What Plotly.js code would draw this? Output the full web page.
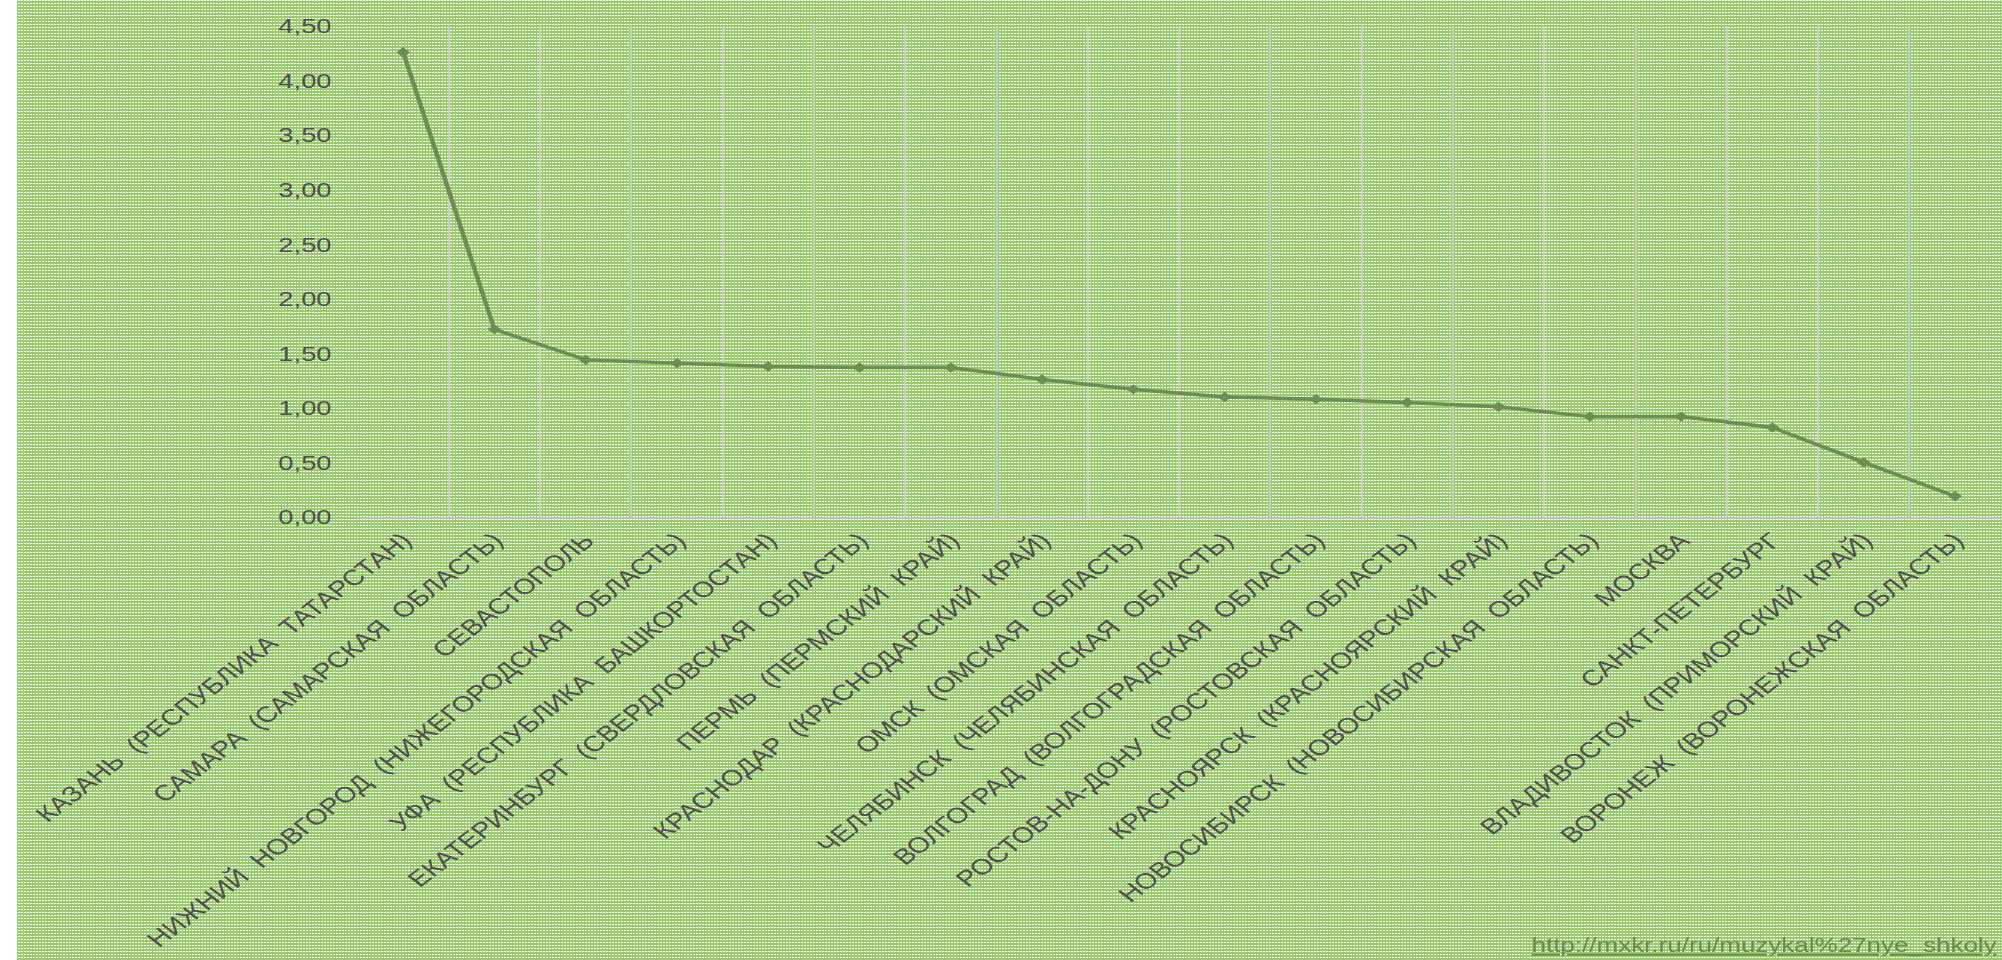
<!DOCTYPE html>
<html>
<head>
<meta charset="utf-8">
<script src="https://cdn.plot.ly/plotly-3.0.1.min.js"></script>
<style>
  html, body { margin: 0; padding: 0; width: 2002px; height: 960px; overflow: hidden; }
  body {
    background-color: #9acb6c;
    background-image: url("data:image/svg+xml,%3Csvg xmlns='http://www.w3.org/2000/svg' width='3' height='3'%3E%3Crect width='3' height='3' fill='%239acb6c'/%3E%3Crect width='2' height='1' fill='%23ffffff'/%3E%3C/svg%3E");
    background-size: 3px 3px;
  }
  #wrap { position: absolute; left: 0; top: 0; width: 2002px; height: 960px; overflow: hidden; }
  #chart { position: absolute; left: 0; top: 0; width: 1540px; height: 960px; transform-origin: 0 0; transform: scaleX(1.3); }
  #strip { position: absolute; left: 0; top: 0; width: 17px; height: 960px; background: #ffffff; z-index: 5; }
</style>
</head>
<body>
<div id="wrap"><div id="chart"></div></div>
<div id="strip"></div>
<script>
const cities = [
  "КАЗАНЬ  (РЕСПУБЛИКА  ТАТАРСТАН)",
  "САМАРА  (САМАРСКАЯ  ОБЛАСТЬ)",
  "СЕВАСТОПОЛЬ",
  "НИЖНИЙ  НОВГОРОД  (НИЖЕГОРОДСКАЯ  ОБЛАСТЬ)",
  "УФА  (РЕСПУБЛИКА  БАШКОРТОСТАН)",
  "ЕКАТЕРИНБУРГ  (СВЕРДЛОВСКАЯ  ОБЛАСТЬ)",
  "ПЕРМЬ  (ПЕРМСКИЙ  КРАЙ)",
  "КРАСНОДАР  (КРАСНОДАРСКИЙ  КРАЙ)",
  "ОМСК  (ОМСКАЯ  ОБЛАСТЬ)",
  "ЧЕЛЯБИНСК  (ЧЕЛЯБИНСКАЯ  ОБЛАСТЬ)",
  "ВОЛГОГРАД  (ВОЛГОГРАДСКАЯ  ОБЛАСТЬ)",
  "РОСТОВ-НА-ДОНУ  (РОСТОВСКАЯ  ОБЛАСТЬ)",
  "КРАСНОЯРСК  (КРАСНОЯРСКИЙ  КРАЙ)",
  "НОВОСИБИРСК  (НОВОСИБИРСКАЯ  ОБЛАСТЬ)",
  "МОСКВА",
  "САНКТ-ПЕТЕРБУРГ",
  "ВЛАДИВОСТОК  (ПРИМОРСКИЙ  КРАЙ)",
  "ВОРОНЕЖ  (ВОРОНЕЖСКАЯ  ОБЛАСТЬ)"
];
const values = [4.26, 1.72, 1.44, 1.41, 1.38, 1.37, 1.37, 1.26, 1.17, 1.10, 1.08, 1.05, 1.01, 0.92, 0.92, 0.82, 0.50, 0.19];
const yTicks = [0, 0.5, 1, 1.5, 2, 2.5, 3, 3.5, 4, 4.5];
const sourceUrl = "http://mxkr.ru/ru/muzykal%27nye_shkoly";

const lineColor = "#6f8c56";

const trace = {
  type: "scatter",
  mode: "lines+markers",
  x: cities,
  y: values,
  line: { color: lineColor, width: 3.5 },
  marker: { symbol: "diamond", size: 8, color: lineColor },
  hoverinfo: "x+y"
};

const layout = {
  width: 1540,
  height: 960,
  margin: { l: 275, r: 1, t: 26, b: 443, pad: 0 },
  paper_bgcolor: "rgba(0,0,0,0)",
  plot_bgcolor: "rgba(0,0,0,0)",
  separators: ", ",
  showlegend: false,
  font: { family: "Liberation Sans, Arial, sans-serif", color: "#505050", size: 22 },
  xaxis: {
    type: "category",
    tickmode: "linear", tick0: 0, dtick: 1,
    tickson: "boundaries",
    ticks: "",
    tickangle: -45,
    showgrid: true,
    gridcolor: "#c9cfc1",
    gridwidth: 1.5,
    showline: true,
    linecolor: "#bcc3b3",
    linewidth: 2,
    zeroline: false,
    automargin: false,
    tickfont: { family: "Liberation Sans, Arial, sans-serif", size: 22, color: "#505050" },
    range: [-0.5, 17.5],
    fixedrange: true
  },
  yaxis: {
    range: [0, 4.5],
    tickmode: "array",
    tickvals: yTicks,
    tickformat: ".2f",
    showgrid: false,
    zeroline: false,
    showline: false,
    ticks: "",
    ticklabelstandoff: 19,
    automargin: false,
    tickfont: { family: "Liberation Sans, Arial, sans-serif", size: 21, color: "#505050" },
    fixedrange: true
  },
  annotations: [{
    xref: "paper", yref: "paper",
    x: 0.713, y: -0.872,
    xanchor: "left", yanchor: "middle",
    text: "<u>" + sourceUrl + "</u>",
    showarrow: false,
    font: { family: "Liberation Sans, Arial, sans-serif", size: 20, color: "#6a8a52" }
  }]
};

Plotly.newPlot("chart", [trace], layout, { displayModeBar: false, staticPlot: true });
</script>
</body>
</html>
